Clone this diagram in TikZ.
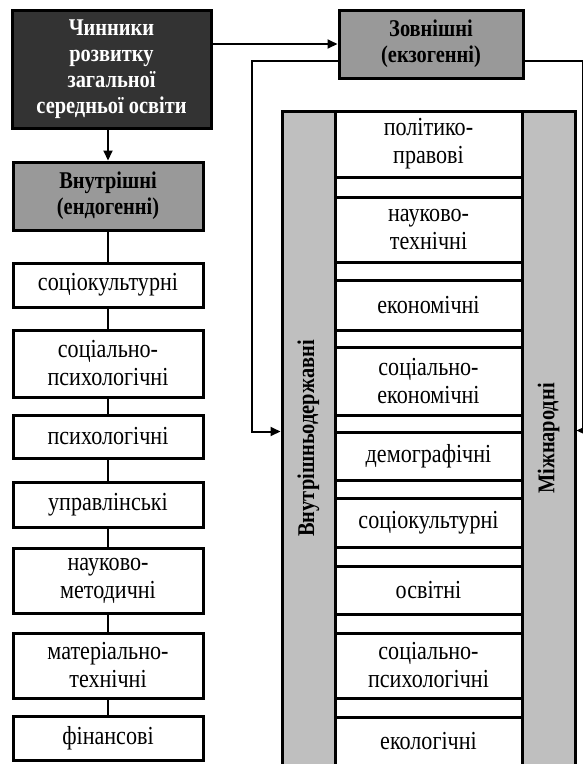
\documentclass[tikz,border=0pt]{standalone}
\usepackage{fontspec}
\setmainfont{Liberation Serif}[FakeStretch=0.85]
\usetikzlibrary{arrows.meta,calc}
\definecolor{darkbox}{gray}{0.2}
\definecolor{midbox}{gray}{0.6}
\definecolor{barfill}{gray}{0.75}

\begin{document}
\begin{tikzpicture}[x=1pt, y=-1pt, line width=2pt,
    every node/.style={font=\fontsize{26}{28}\selectfont, align=center, inner sep=0pt},
    box/.style={draw, line width=3pt, fill=white, minimum width=190pt},
    rbox/.style={draw, line width=3pt, fill=white, minimum width=187pt},
    head/.style={draw, line width=3pt, fill=midbox, font=\fontsize{24}{26}\selectfont\bfseries},
    bar/.style={draw, line width=3pt, fill=barfill, minimum width=53pt, minimum height=655pt,
      font=\fontsize{24}{26}\selectfont\bfseries},
    arr/.style={-{Triangle[length=10pt,width=9pt]}}]
  \useasboundingbox (0,0) rectangle (583,764);

  \node[head, fill=darkbox, text=white, minimum width=199pt, minimum height=118pt] (chin) at (111.5,69)
    {Чинники\\розвитку\\загальної\\середньої освіти};
  \node[head, minimum width=184pt, minimum height=68pt] (zov) at (431,44) {Зовнішні\\(екзогенні)};
  \node[head, minimum width=190pt, minimum height=68pt] (vn) at (108,196) {Внутрішні\\(ендогенні)};

  \node[box, minimum height=44pt] (l1) at (108,285) {соціокультурні};
  \node[box, minimum height=67pt] (l2) at (108,363.5) {соціально-\\психологічні};
  \node[box, minimum height=43pt] (l3) at (108,436.5) {психологічні};
  \node[box, minimum height=45pt] (l4) at (108,504.5) {управлінські};
  \node[box, minimum height=65pt] (l5) at (108,580.5) {науково-\\методичні};
  \node[box, minimum height=65pt] (l6) at (108,665.5) {матеріально-\\технічні};
  \node[box, minimum height=44pt] (l7) at (108,738) {фінансові};

  \node[bar] (vnd) at (308.5,438.5) {\rotatebox{90}{Внутрішньодержавні}};
  \node[bar] (mizh) at (548.5,438.5) {\rotatebox{90}{Міжнародні}};

  \node[rbox, minimum height=66pt] (r1) at (428.5,144) {політико-\\правові};
  \node[rbox, minimum height=65pt] (r2) at (428.5,229.5) {науково-\\технічні};
  \node[rbox, minimum height=50pt] (r3) at (428.5,305) {економічні};
  \node[rbox, minimum height=68pt] (r4) at (428.5,381) {соціально-\\економічні};
  \node[rbox, minimum height=48pt] (r5) at (428.5,456) {демографічні};
  \node[rbox, minimum height=49pt] (r6) at (428.5,522.5) {соціокультурні};
  \node[rbox, minimum height=48pt] (r7) at (428.5,590) {освітні};
  \node[rbox, minimum height=65pt] (r8) at (428.5,665.5) {соціально-\\психологічні};
  \node[rbox, minimum height=49pt] (r9) at (428.5,741.5) {екологічні};

  \draw[arr] (chin.east |- zov.west) -- (zov.west);
  \draw[arr] (chin.south -| vn.north) -- (vn.north);
  \draw (vn) -- (l1);
  \foreach \a/\b in {l1/l2,l2/l3,l3/l4,l4/l5,l5/l6,l6/l7}
    \draw (\a) -- (\b);

  \coordinate (zl) at ($(zov.west)+(0,17)$);
  \coordinate (zr) at ($(zov.east)+(0,17)$);
  \draw[arr] (zl) -- ++(-86,0) |- ($(vnd.west)+(0,-7)$);
  \draw[arr] (zr) -- ++(58,0) |- ($(mizh.east)+(0,-8)$);
\end{tikzpicture}
\end{document}
